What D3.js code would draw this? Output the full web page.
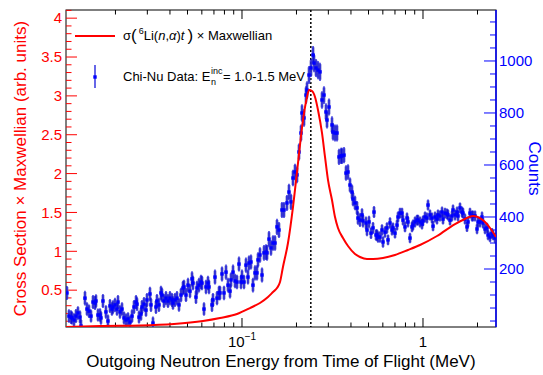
<!DOCTYPE html>
<html>
<head>
<meta charset="utf-8">
<script src="https://cdn.jsdelivr.net/npm/d3@7"></script>
<style>
  body { margin: 0; background: #fff; }
  svg { display: block; font-family: "Liberation Sans", Arial, sans-serif; }
</style>
</head>
<body>
<svg id="chart"></svg>
<script>
// Chi-Nu data: outgoing neutron energy (MeV), counts and their error
const energy = [
  0.01079, 0.01107, 0.01136, 0.01150, 0.01180, 0.01210, 0.01241, 0.01274, 0.01290, 0.01357,
  0.01392, 0.01428, 0.01465, 0.01503, 0.01542, 0.01561, 0.01601, 0.01643, 0.01663, 0.01706,
  0.01772, 0.01818, 0.01865, 0.01913, 0.01938, 0.01988, 0.02039, 0.02065, 0.02118, 0.02173,
  0.02229, 0.02287, 0.02346, 0.02406, 0.02469, 0.02532, 0.02598, 0.02631, 0.02698, 0.02767,
  0.02803, 0.02875, 0.02949, 0.02986, 0.03102, 0.03142, 0.03223, 0.03348, 0.03391, 0.03478,
  0.03568, 0.03614, 0.03707, 0.03803, 0.03901, 0.04001, 0.04105, 0.04157, 0.04264, 0.04374,
  0.04487, 0.04603, 0.04721, 0.04782, 0.04905, 0.05032, 0.05161, 0.05295, 0.05362, 0.05569,
  0.05641, 0.05786, 0.05935, 0.06012, 0.06167, 0.06325, 0.06489, 0.06572, 0.06827, 0.06915,
  0.07093, 0.07277, 0.07464, 0.07561, 0.07755, 0.07956, 0.08161, 0.08372, 0.08587, 0.08697,
  0.08922, 0.09152, 0.09384, 0.09625, 0.09874, 0.1000, 0.1026, 0.1052, 0.1079, 0.1093,
  0.1121, 0.1150, 0.1180, 0.1210, 0.1226, 0.1257, 0.1290, 0.1323, 0.1357, 0.1375,
  0.1410, 0.1446, 0.1484, 0.1522, 0.1561, 0.1601, 0.1663, 0.1706, 0.1772, 0.1818,
  0.1865, 0.1913, 0.1963, 0.2013, 0.2065, 0.2118, 0.2145, 0.2201, 0.2258, 0.2287,
  0.2346, 0.2406, 0.2469, 0.2500, 0.2564, 0.2630, 0.2698, 0.2767, 0.2838, 0.2911,
  0.2949, 0.3025, 0.3142, 0.3183, 0.3265, 0.3349, 0.3435, 0.3524, 0.3569, 0.3661,
  0.3755, 0.3852, 0.3951, 0.4053, 0.4106, 0.4211, 0.4320, 0.4373, 0.4486, 0.4603,
  0.4661, 0.4843, 0.4905, 0.5032, 0.5161, 0.5295, 0.5362, 0.5500, 0.5569, 0.5641,
  0.5786, 0.5935, 0.6012, 0.6167, 0.6325, 0.6407, 0.6572, 0.6741, 0.6828, 0.7003,
  0.7185, 0.7277, 0.7464, 0.7656, 0.7754, 0.7953, 0.8159, 0.8262, 0.8476, 0.8694,
  0.8806, 0.9033, 0.9266, 0.9384, 0.9625, 0.9874, 1.000, 1.026, 1.052, 1.066,
  1.093, 1.121, 1.136, 1.165, 1.195, 1.210, 1.241, 1.274, 1.290, 1.323,
  1.357, 1.374, 1.410, 1.446, 1.465, 1.503, 1.542, 1.561, 1.601, 1.643,
  1.663, 1.706, 1.750, 1.773, 1.818, 1.865, 1.889, 1.938, 1.988, 2.014,
  2.065, 2.118, 2.145, 2.201, 2.258, 2.287, 2.346, 2.406, 2.437, 2.500
];
const counts = [
  108, 19, 15, 12, 4, 19, 31, 15, -19, 88,
  46, 38, 19, 73, 69, 77, 23, 23, 12, 77,
  35, 0, 58, 46, 54, 62, 46, 73, 35, 46,
  12, 4, 8, -4, 19, 54, 73, 65, 15, 27,
  54, 65, 42, 81, 104, 62, -8, 54, 77, 62,
  108, 100, 77, 88, 77, 88, 81, 69, 81, 88,
  62, 100, 127, 131, 100, 138, 115, 162, 146, 92,
  127, 138, 150, 146, 46, 131, 146, 131, 62, 81,
  169, 88, 108, 108, 181, 108, 188, 138, 115, 158,
  188, 154, 150, 219, 150, 169, 150, 215, 169, 223,
  227, 138, 185, 185, 235, 254, 177, 262, 265, 262,
  315, 281, 300, 300, 362, 350, 427, 427, 454, 496,
  458, 550, 573, 562, 650, 723, 800, 781, 869, 888,
  946, 973, 1023, 992, 973, 965, 958, 850, 869, 804,
  773, 823, 754, 727, 723, 723, 631, 635, 635, 638,
  569, 573, 523, 496, 469, 454, 435, 396, 388, 408,
  385, 377, 350, 381, 338, 358, 419, 331, 331, 323,
  323, 350, 304, 342, 358, 312, 377, 350, 358, 338,
  369, 400, 415, 415, 388, 362, 396, 381, 319, 362,
  369, 381, 388, 388, 381, 373, 385, 400, 396, 446,
  408, 396, 365, 400, 392, 408, 404, 419, 392, 415,
  412, 408, 388, 404, 427, 408, 419, 404, 435, 419,
  415, 392, 362, 381, 415, 404, 404, 404, 354, 381,
  381, 400, 377, 354, 358, 331, 323, 338, 331, 319
];
const countErr = [
  27, 26, 26, 25, 26, 27, 26, 25, 27, 28, 26, 26, 25, 27, 27, 26, 25, 26, 26, 27,
  26, 25, 27, 26, 26, 27, 26, 27, 26, 26, 25, 25, 26, 25, 26, 27, 27, 26, 25, 26,
  27, 27, 26, 27, 28, 27, 25, 27, 27, 27, 28, 28, 27, 27, 27, 27, 27, 26, 27, 27,
  26, 28, 28, 28, 27, 28, 27, 29, 28, 27, 28, 28, 28, 28, 26, 28, 28, 28, 27, 27,
  29, 27, 28, 28, 29, 28, 29, 28, 28, 29, 29, 28, 28, 29, 28, 29, 28, 29, 29, 29,
  29, 28, 29, 29, 29, 30, 29, 30, 30, 30, 31, 30, 30, 30, 31, 31, 31, 31, 31, 32,
  31, 32, 32, 32, 33, 33, 34, 34, 34, 34, 35, 35, 35, 35, 35, 35, 35, 34, 34, 33,
  33, 33, 33, 33, 33, 33, 31, 31, 31, 31, 30, 30, 29, 29, 28, 28, 27, 26, 26, 26,
  25, 25, 24, 24, 23, 23, 23, 22, 22, 22, 22, 22, 22, 22, 22, 21, 22, 21, 21, 21,
  21, 21, 21, 21, 21, 21, 21, 21, 20, 21, 21, 21, 21, 21, 21, 21, 21, 21, 21, 21,
  21, 21, 20, 21, 21, 21, 21, 21, 21, 21, 21, 21, 21, 21, 21, 21, 21, 21, 21, 21,
  21, 21, 20, 21, 21, 21, 21, 21, 20, 21, 21, 21, 21, 20, 20, 20, 20, 20, 20, 20
];

// sigma(6Li(n,a)t) x Maxwellian, arbitrary units
const curveE = [
  0.01066, 0.01643, 0.02732, 0.04210, 0.06089, 0.07561, 0.09384, 0.1107, 0.1257, 0.1392,
  0.1484, 0.1561, 0.1622, 0.1684, 0.1795, 0.1913, 0.2039, 0.2173, 0.2287, 0.2346,
  0.2437, 0.2532, 0.2630, 0.2767, 0.2875, 0.2986, 0.3142, 0.3265, 0.3391, 0.3614,
  0.3852, 0.4211, 0.4486, 0.4905, 0.5295, 0.6012, 0.7003, 0.8262, 0.9625, 1.195,
  1.503, 1.706, 1.889, 2.065, 2.201, 2.346, 2.531
];
const curveY = [
  0.026, 0.039, 0.045, 0.064, 0.103, 0.142, 0.193, 0.270, 0.335, 0.412,
  0.476, 0.528, 0.605, 0.798, 1.107, 1.570, 2.136, 2.690, 2.986, 3.076,
  3.063, 2.986, 2.819, 2.523, 2.214, 1.918, 1.660, 1.441, 1.300, 1.171,
  1.068, 0.965, 0.927, 0.901, 0.901, 0.914, 0.953, 1.017, 1.081, 1.197,
  1.351, 1.416, 1.454, 1.428, 1.377, 1.300, 1.184
];

const leftTickLabels = ["0.5", "1", "1.5", "2", "2.5", "3", "3.5", "4"];
const rightTickLabels = ["200", "400", "600", "800", "1000"];
const resonanceE = 0.24;

const width = 543, height = 375;
const pL = 66, pR = 496, pT = 10, pB = 327;

const svg = d3.select("#chart")
  .attr("width", width)
  .attr("height", height);

svg.append("rect").attr("width", width).attr("height", height).attr("fill", "#fff");

const x = d3.scaleLog().domain([0.01066, 2.531]).range([pL, pR]);
const yL = d3.scaleLinear().domain([0.026, 4.105]).range([pB, pT]);
const yR = d3.scaleLinear().domain([-23, 1196]).range([pB, pT]);

svg.append("clipPath").attr("id", "plot")
  .append("rect")
  .attr("x", pL).attr("y", pT)
  .attr("width", pR - pL).attr("height", pB - pT);

// frame
svg.append("rect")
  .attr("x", pL).attr("y", pT)
  .attr("width", pR - pL).attr("height", pB - pT)
  .attr("fill", "none")
  .attr("stroke", "#000");

// x ticks (bottom and top)
const isDecade = d => Math.abs(Math.log10(d) - Math.round(Math.log10(d))) < 1e-9;
const xt = x.ticks();
svg.append("g")
  .attr("stroke", "#000")
  .selectAll("line")
  .data(xt.flatMap(d => [{d, y0: pB, s: -1}, {d, y0: pT, s: 1}]))
  .join("line")
  .attr("x1", t => x(t.d)).attr("x2", t => x(t.d))
  .attr("y1", t => t.y0)
  .attr("y2", t => t.y0 + t.s * (isDecade(t.d) ? 9 : 4.5));

const xLab = svg.append("g").attr("font-size", 15).attr("text-anchor", "middle");
xLab.append("text")
  .attr("x", x(0.1)).attr("y", 347)
  .call(t => t.append("tspan").text("10"))
  .call(t => t.append("tspan").attr("font-size", 10).attr("dy", -7).text("\u22121"));
xLab.append("text")
  .attr("x", x(1)).attr("y", 347)
  .text("1");

svg.append("text")
  .attr("x", (pL + pR) / 2).attr("y", 367)
  .attr("text-anchor", "middle")
  .attr("font-size", 17)
  .text("Outgoing Neutron Energy from Time of Flight (MeV)");

// left axis (red)
const lt = yL.ticks(40).filter(v => v > 0.05);
const isHalf = v => Math.abs(v * 2 - Math.round(v * 2)) < 1e-6;
svg.append("g")
  .attr("stroke", "#f00")
  .selectAll("line")
  .data(lt)
  .join("line")
  .attr("x1", pL).attr("x2", v => pL + (isHalf(v) ? 11 : 5.5))
  .attr("y1", v => yL(v)).attr("y2", v => yL(v));

svg.append("g")
  .attr("fill", "#f00")
  .attr("font-size", 15)
  .attr("text-anchor", "end")
  .selectAll("text")
  .data(leftTickLabels)
  .join("text")
  .attr("x", 62)
  .attr("y", d => yL(+d))
  .attr("dy", "0.35em")
  .text(d => d);

svg.append("text")
  .attr("transform", `translate(26,${(pT + pB) / 2}) rotate(-90)`)
  .attr("text-anchor", "middle")
  .attr("fill", "#f00")
  .attr("font-size", 17)
  .text("Cross Section \u00d7 Maxwellian (arb. units)");

// right axis (blue)
const rt = yR.ticks(24).filter(v => v >= 0);
svg.append("line")
  .attr("x1", pR).attr("x2", pR)
  .attr("y1", pT).attr("y2", pB)
  .attr("stroke", "#00f").attr("stroke-width", 1.5);
svg.append("g")
  .attr("stroke", "#00f")
  .selectAll("line")
  .data(rt)
  .join("line")
  .attr("x1", pR).attr("x2", v => pR - (v % 200 === 0 && v > 0 ? 12 : 6))
  .attr("y1", v => yR(v)).attr("y2", v => yR(v));

svg.append("g")
  .attr("fill", "#00f")
  .attr("font-size", 15)
  .selectAll("text")
  .data(rightTickLabels)
  .join("text")
  .attr("x", 499)
  .attr("y", d => yR(+d))
  .attr("dy", "0.35em")
  .text(d => d);

svg.append("text")
  .attr("transform", `translate(529,${(pT + pB) / 2}) rotate(90)`)
  .attr("text-anchor", "middle")
  .attr("fill", "#00f")
  .attr("font-size", 17)
  .text("Counts");

// resonance marker
svg.append("line")
  .attr("x1", x(resonanceE)).attr("x2", x(resonanceE))
  .attr("y1", pT).attr("y2", pB)
  .attr("stroke", "#000")
  .attr("stroke-width", 1.5)
  .attr("stroke-dasharray", "2,2");

// data points
const pts = energy.map((e, i) => ({e, c: counts[i], err: countErr[i]}));
const dataG = svg.append("g").attr("clip-path", "url(#plot)");

dataG.append("g")
  .attr("fill", "#6e6ec6")
  .attr("fill-opacity", 0.8)
  .selectAll("rect")
  .data(pts)
  .join("rect")
  .attr("x", d => x(d.e) - 1.5)
  .attr("width", 3)
  .attr("y", d => yR(d.c + d.err * 0.85))
  .attr("height", d => yR(d.c - d.err * 0.85) - yR(d.c + d.err * 0.85));

dataG.append("g")
  .attr("stroke", "#0000d8")
  .attr("stroke-width", 1.2)
  .selectAll("line")
  .data(pts)
  .join("line")
  .attr("x1", d => x(d.e)).attr("x2", d => x(d.e))
  .attr("y1", d => yR(d.c - d.err)).attr("y2", d => yR(d.c + d.err));

dataG.append("g")
  .attr("fill", "#00f")
  .selectAll("rect")
  .data(pts)
  .join("rect")
  .attr("x", d => x(d.e) - 1.7)
  .attr("y", d => yR(d.c) - 1.7)
  .attr("width", 3.4)
  .attr("height", 3.4);

// cross section curve
const line = d3.line()
  .x((d, i) => x(curveE[i]))
  .y(d => yL(d))
  .curve(d3.curveMonotoneX);

dataG.append("path")
  .datum(curveY)
  .attr("fill", "none")
  .attr("stroke", "#f00")
  .attr("stroke-width", 2)
  .attr("d", line);

// legend
const leg = svg.append("g").attr("font-size", 13).attr("fill", "#000");
leg.append("line")
  .attr("x1", 75).attr("x2", 115).attr("y1", 36).attr("y2", 36)
  .attr("stroke", "#f00").attr("stroke-width", 2);

const t1 = leg.append("text").attr("x", 123).attr("y", 40);
t1.append("tspan").text("\u03c3");
t1.append("tspan").attr("font-size", 17).attr("dy", 1).text("(");
t1.append("tspan").attr("font-size", 9).attr("dy", -7).attr("dx", 2).text("6");
t1.append("tspan").attr("dy", 6).text("Li(");
t1.append("tspan").attr("font-style", "italic").text("n");
t1.append("tspan").text(",");
t1.append("tspan").attr("font-style", "italic").text("\u03b1");
t1.append("tspan").text(")");
t1.append("tspan").attr("font-style", "italic").text("t");
t1.append("tspan").attr("font-size", 17).attr("dy", 1).attr("dx", 3).text(")");
t1.append("tspan").attr("dy", -1).text(" \u00d7 Maxwellian");

leg.append("line")
  .attr("x1", 95).attr("x2", 95).attr("y1", 65).attr("y2", 88)
  .attr("stroke", "#0000d8").attr("stroke-width", 1.2);
leg.append("rect")
  .attr("x", 93.3).attr("y", 75.3).attr("width", 3.4).attr("height", 3.4)
  .attr("fill", "#00f");

const t2 = leg.append("text").attr("x", 123).attr("y", 81).text("Chi-Nu Data: E");
const w2 = t2.node().getComputedTextLength();
const sup = leg.append("text").attr("x", 123 + w2 + 0.5).attr("y", 74).attr("font-size", 9).text("inc");
leg.append("text").attr("x", 123 + w2 + 0.5).attr("y", 85).attr("font-size", 9).text("n");
const wSup = sup.node().getComputedTextLength();
leg.append("text").attr("x", 123 + w2 + wSup + 1).attr("y", 81).text("= 1.0-1.5 MeV");
</script>
</body>
</html>
